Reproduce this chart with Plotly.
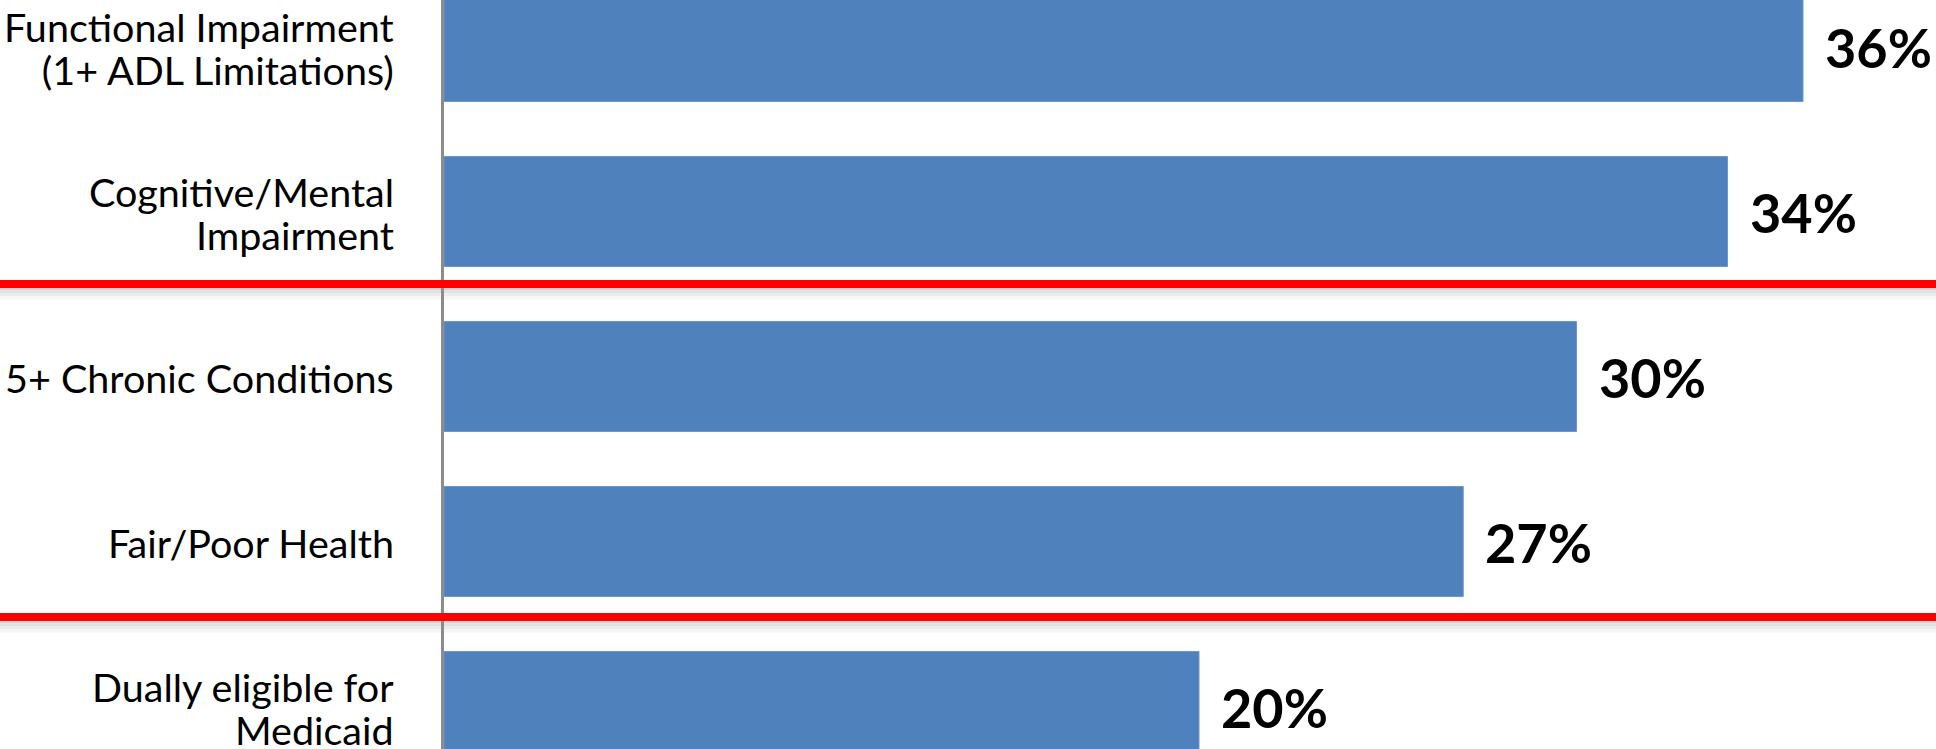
import plotly.graph_objects as go

categories = [
    "Functional Impairment<br>(1+ ADL Limitations)",
    "Cognitive/Mental<br>Impairment",
    "5+ Chronic Conditions",
    "Fair/Poor Health",
    "Dually eligible for<br>Medicaid",
]
values = [36, 34, 30, 27, 20]
value_labels = ["36%", "34%", "30%", "27%", "20%"]

W, H = 1936, 749
LEFT = 444

fig = go.Figure()
fig.add_trace(go.Bar(
    x=values,
    y=categories,
    orientation="h",
    marker=dict(color="#4F81BD", line=dict(color="#6E96CC", width=1)),
    hoverinfo="skip",
))

# value labels
for v, lab, cat in zip(values, value_labels, categories):
    fig.add_annotation(
        x=v, y=cat, xref="x", yref="y",
        text=lab, showarrow=False,
        xanchor="left", yanchor="middle", xshift=20, yshift=-1,
        font=dict(family="Lato", size=54, color="black", weight="bold"),
    )

# category labels: base size sets the (tighter) line spacing, span sets glyph size
for cat in categories:
    txt = "<br>".join('<span style="font-size:39.5px">%s</span>' % ln for ln in cat.split("<br>"))
    fig.add_annotation(
        x=0, y=cat, xref="paper", yref="y",
        text=txt, showarrow=False, align="right",
        xanchor="right", yanchor="middle",
        xshift=-48, yshift=-1,
        font=dict(family="Lato", size=33, color="black"),
    )

# separators (red lines with soft shadow)
x0 = -LEFT / (W - LEFT) - 0.01
for py in [284, 617]:
    for off, col in [(5, "#d2d2d2"), (8, "#e0e0e0"), (11, "#ececec"), (14, "#f6f6f6")]:
        yy = 1 - (py + off) / H
        fig.add_shape(type="line", xref="paper", yref="paper", x0=x0, x1=1.01,
                      y0=yy, y1=yy, line=dict(color=col, width=3), layer="below")
    yy = 1 - py / H
    fig.add_shape(type="line", xref="paper", yref="paper", x0=x0, x1=1.01,
                  y0=yy, y1=yy, line=dict(color="#FF0000", width=8), layer="above")

pitch = 165.0
c0 = 46.5
fig.update_layout(
    width=W, height=H,
    margin=dict(l=LEFT, r=0, t=0, b=0),
    paper_bgcolor="white", plot_bgcolor="white",
    showlegend=False,
    bargap=0.333,
    xaxis=dict(range=[0, (W - LEFT) / 37.75], visible=False, fixedrange=True),
    yaxis=dict(
        type="category",
        range=[(H - c0) / pitch, -c0 / pitch],
        showline=True, linecolor="#8C8C8C", linewidth=3,
        showgrid=False, zeroline=False, ticks="",
        showticklabels=False,
        fixedrange=True,
    ),
)

fig.write_html(
    "out.html",
    config={"displayModeBar": False},
    post_script="document.body.style.margin='0';document.body.style.overflow='hidden';",
)
